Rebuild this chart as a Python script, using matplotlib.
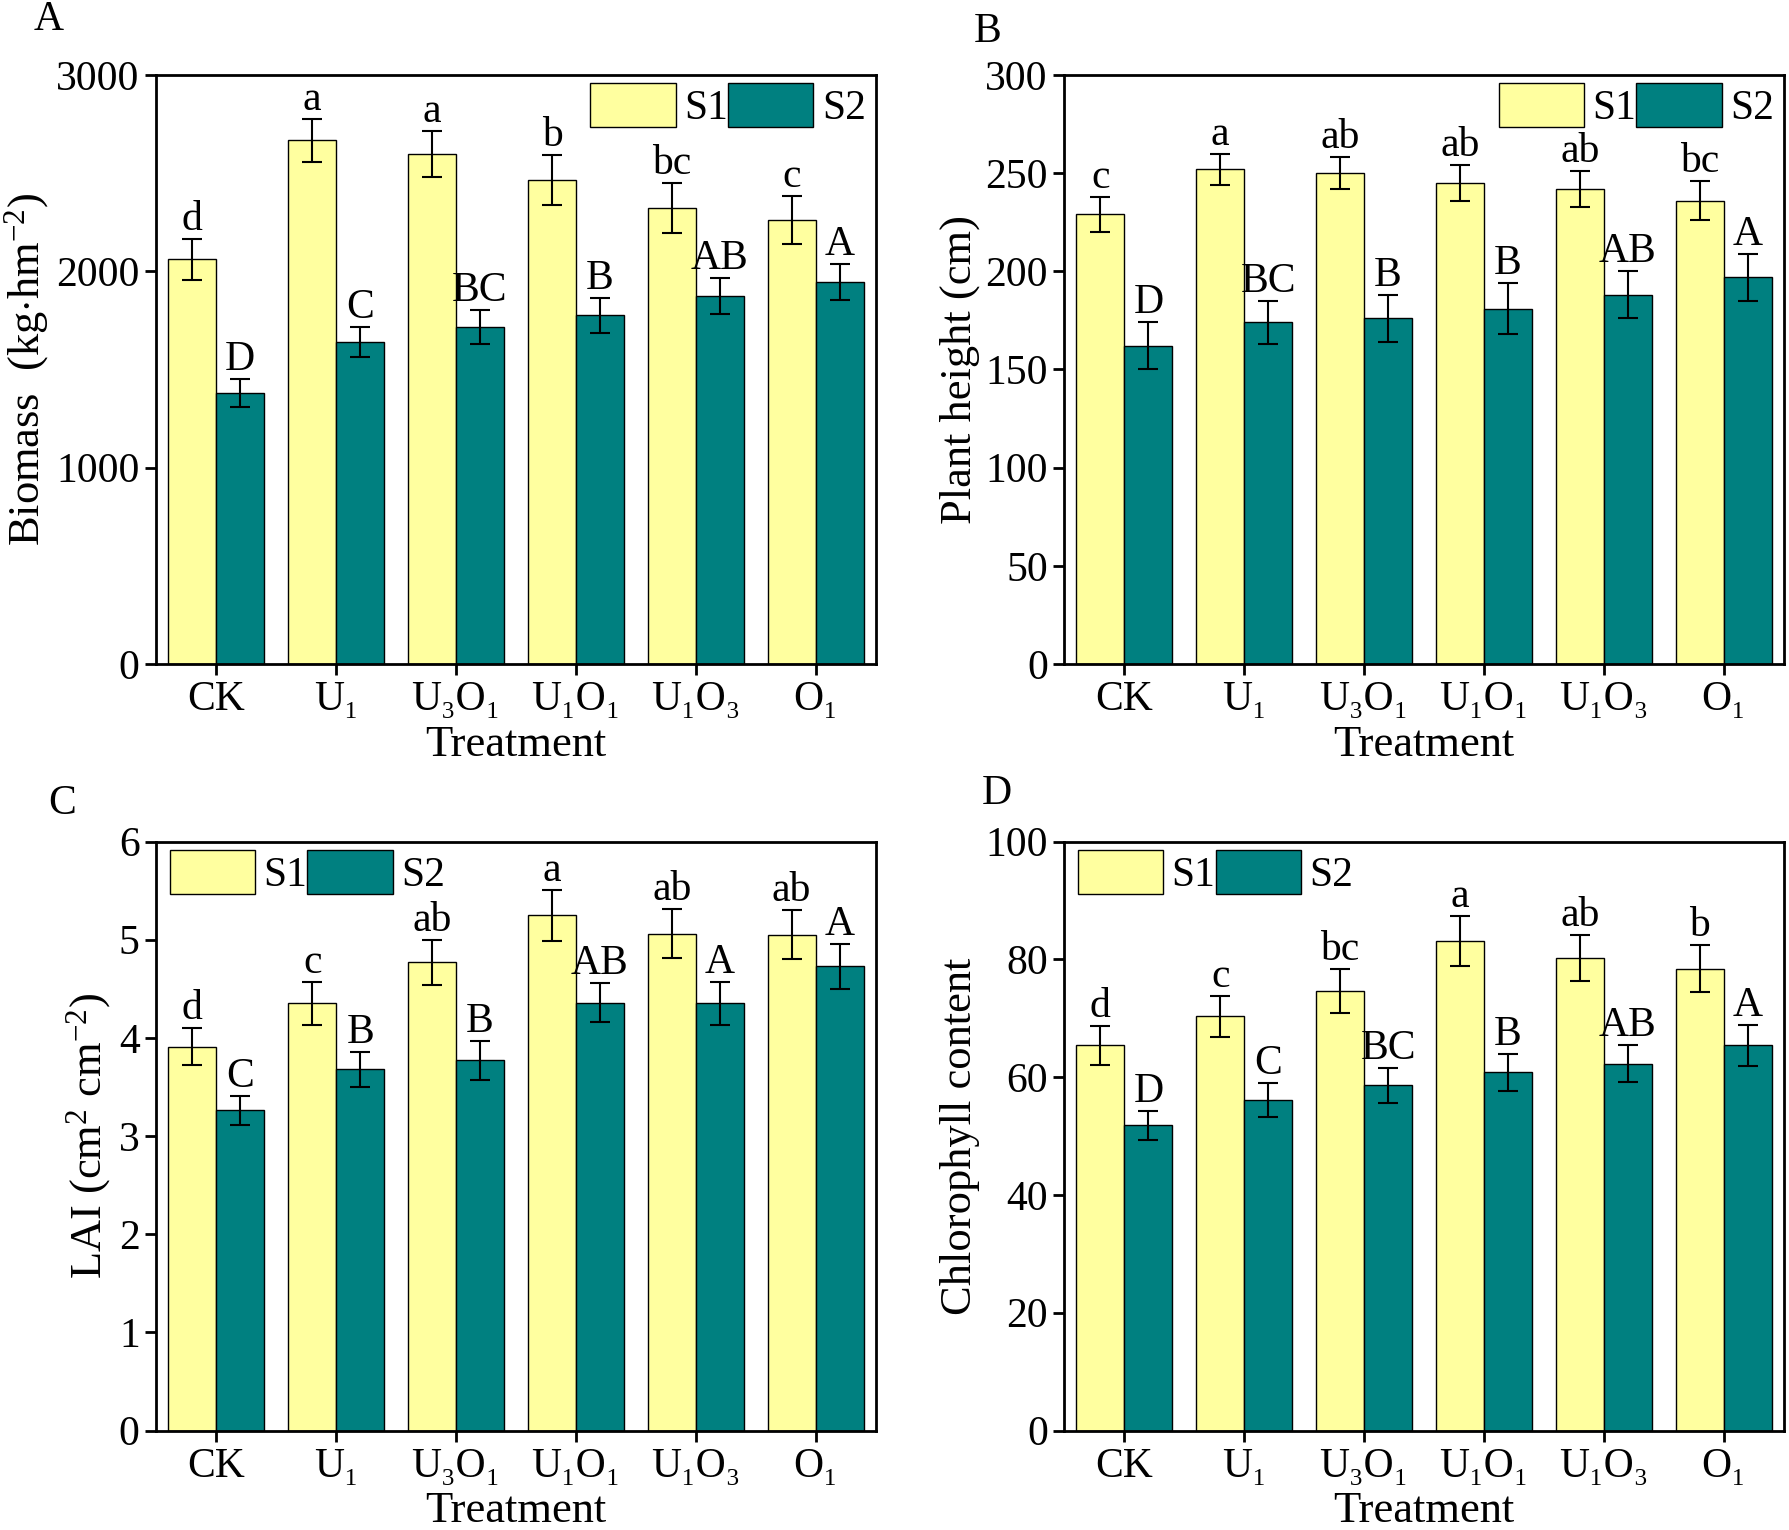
import numpy as np
import matplotlib
matplotlib.use("Agg")
import matplotlib.pyplot as plt

plt.rcParams['font.family'] = ['Liberation Serif', 'DejaVu Serif']
plt.rcParams['mathtext.fontset'] = 'custom'
plt.rcParams['mathtext.rm'] = 'Liberation Serif'
plt.rcParams['mathtext.it'] = 'Liberation Serif:italic'

# -----------------------
# DATA
# -----------------------
treatments = ["CK", "U₁", "U₃O₁", "U₁O₁", "U₁O₃", "O₁"]

biomass_s1 = [2062, 2668, 2598, 2464, 2324, 2260]
biomass_s1_err = [105, 110, 116, 128, 128, 122]
biomass_s2 = [1380, 1642, 1718, 1776, 1875, 1945]
biomass_s2_err = [70, 76, 87, 88, 93, 93]
biomass_s1_let = ["d", "a", "a", "b", "bc", "c"]
biomass_s2_let = ["D", "C", "BC", "B", "AB", "A"]

height_s1 = [229, 252, 250, 245, 242, 236]
height_s1_err = [9, 8, 8, 9, 9, 10]
height_s2 = [162, 174, 176, 181, 188, 197]
height_s2_err = [12, 11, 12, 13, 12, 12]
height_s1_let = ["c", "a", "ab", "ab", "ab", "bc"]
height_s2_let = ["D", "BC", "B", "B", "AB", "A"]

lai_s1 = [3.91, 4.35, 4.77, 5.25, 5.06, 5.05]
lai_s1_err = [0.19, 0.22, 0.23, 0.26, 0.25, 0.25]
lai_s2 = [3.26, 3.68, 3.77, 4.36, 4.35, 4.73]
lai_s2_err = [0.15, 0.18, 0.20, 0.20, 0.22, 0.23]
lai_s1_let = ["d", "c", "ab", "a", "ab", "ab"]
lai_s2_let = ["C", "B", "B", "AB", "A", "A"]

chl_s1 = [65.4, 70.3, 74.6, 83.1, 80.2, 78.4]
chl_s1_err = [3.3, 3.5, 3.7, 4.3, 3.9, 4.0]
chl_s2 = [51.8, 56.1, 58.6, 60.8, 62.3, 65.4]
chl_s2_err = [2.5, 2.9, 3.0, 3.1, 3.2, 3.5]
chl_s1_let = ["d", "c", "bc", "a", "ab", "b"]
chl_s2_let = ["D", "C", "BC", "B", "AB", "A"]

# -----------------------
# STYLE
# -----------------------
c_s1 = "#FFFF9F"
c_s2 = "#008080"
fs = 30
bw = 0.4

fig = plt.figure(figsize=(17.89, 15.30), dpi=100)

# axes positions [left, bottom, width, height]
pos = {
    "A": [0.0874, 0.566, 0.402, 0.385],
    "B": [0.595, 0.566, 0.402, 0.385],
    "C": [0.0874, 0.065, 0.402, 0.385],
    "D": [0.595, 0.065, 0.402, 0.385],
}


def panel(key, s1, e1, s2, e2, l1, l2, ylim, yticks, ylabel, where):
    ax = fig.add_axes(pos[key])
    x = np.arange(len(treatments))
    ax.bar(x - bw / 2, s1, bw, color=c_s1, edgecolor="black", linewidth=1.0,
           label="S1", zorder=2)
    ax.bar(x + bw / 2, s2, bw, color=c_s2, edgecolor="black", linewidth=1.0,
           label="S2", zorder=2)
    ax.errorbar(x - bw / 2, s1, yerr=e1, fmt="none", ecolor="black",
                elinewidth=1.5, capsize=7, capthick=1.5, zorder=3)
    ax.errorbar(x + bw / 2, s2, yerr=e2, fmt="none", ecolor="black",
                elinewidth=1.5, capsize=7, capthick=1.5, zorder=3)
    for i in range(len(x)):
        ax.annotate(l1[i], (x[i] - bw / 2, s1[i] + e1[i]), xytext=(0, 0),
                    textcoords="offset points", ha="center", va="bottom",
                    fontsize=fs)
        ax.annotate(l2[i], (x[i] + bw / 2, s2[i] + e2[i]), xytext=(0, 0),
                    textcoords="offset points", ha="center", va="bottom",
                    fontsize=fs)

    ax.set_xlim(-0.5, 5.5)
    ax.set_ylim(*ylim)
    ax.set_yticks(yticks)
    ax.set_xticks(x)
    ax.set_xticklabels(treatments)
    ax.tick_params(axis="both", direction="out", length=8, width=2,
                   labelsize=fs, pad=4)
    for s in ax.spines.values():
        s.set_linewidth(2)
    ax.set_xlabel("Treatment", fontsize=fs + 2, labelpad=4)
    ax.set_ylabel(ylabel, fontsize=fs + 2)

    # legend: two wide patches side by side
    h, l = ax.get_legend_handles_labels()
    if where == "right":
        kw = dict(loc="upper right", bbox_to_anchor=(0.995, 0.997))
    else:
        kw = dict(loc="upper left", bbox_to_anchor=(0.01, 0.997))
    ax.legend(h, l, ncol=2, frameon=False, fontsize=fs, handlelength=2.05,
              handleheight=1.25, handletextpad=0.2, columnspacing=0.0,
              borderpad=0.05, borderaxespad=0.1, **kw)
    return ax


panel("A", biomass_s1, biomass_s1_err, biomass_s2, biomass_s2_err,
      biomass_s1_let, biomass_s2_let, (0, 3000), [0, 1000, 2000, 3000],
      r"Biomass  (kg$\cdot$hm$^{-2}$)", "right")

panel("B", height_s1, height_s1_err, height_s2, height_s2_err,
      height_s1_let, height_s2_let, (0, 300), np.arange(0, 301, 50),
      "Plant height (cm)", "right")

panel("C", lai_s1, lai_s1_err, lai_s2, lai_s2_err,
      lai_s1_let, lai_s2_let, (0, 6), np.arange(0, 7, 1),
      r"LAI (cm$^{2}$ cm$^{-2}$)", "left")

panel("D", chl_s1, chl_s1_err, chl_s2, chl_s2_err,
      chl_s1_let, chl_s2_let, (0, 100), np.arange(0, 101, 20),
      "Chlorophyll content", "left")

fig.text(0.027, 0.987, "A", fontsize=fs, ha="center", va="center")
fig.text(0.552, 0.979, "B", fontsize=fs, ha="center", va="center")
fig.text(0.035, 0.475, "C", fontsize=fs, ha="center", va="center")
fig.text(0.557, 0.481, "D", fontsize=fs, ha="center", va="center")

fig.savefig("out.png", dpi=100, facecolor="white")
